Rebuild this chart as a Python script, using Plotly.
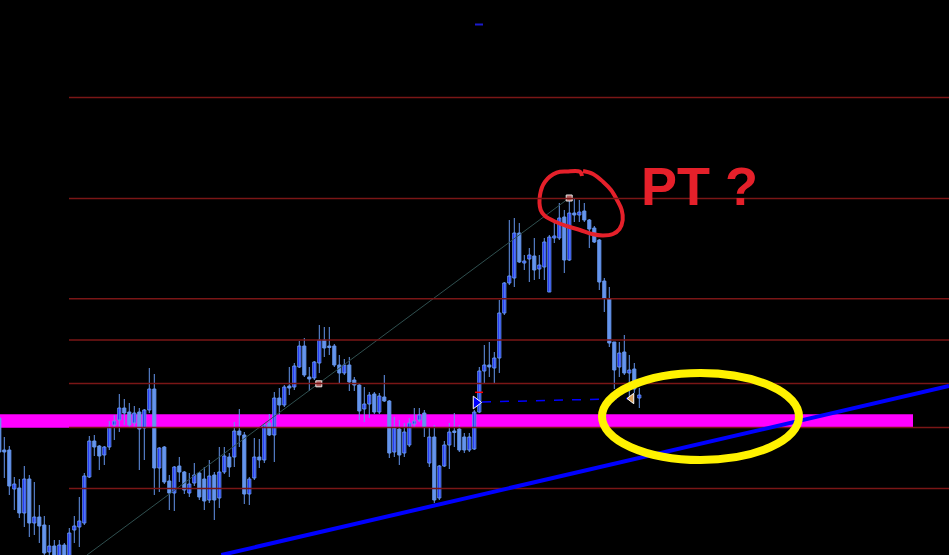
import plotly.graph_objects as go

# ---- candle data (bar index, prices) ----
bar_index = list(range(-1, 128))
opens = [137, 105, 105, 66, 67, 42, 76, 32, 38, 30, 3, 9, -1, 10, -1, 25, 28, 32, 78, 114, 109, 100,
         108, 130, 135, 147, 143, 132, 143, 127, 145, 166, 87, 108, 74, 62, 89, 83, 62, 72, 82, 76,
         55, 80, 57, 83, 98, 98, 124, 120, 61, 77, 98, 95, 132, 120, 157, 150, 169, 168, 188, 209,
         178, 177, 192, 215, 209, 209, 190, 182, 190, 175, 170, 146, 151, 161, 143, 158, 154, 103,
         126, 102, 110, 131, 135, 142, 92, 118, 57, 89, 110, 124, 126, 118, 105, 106, 143, 184, 190,
         187, 197, 242, 272, 277, 322, 292, 296, 299, 286, 288, 263, 317, 317, 338, 295, 342, 340,
         344, 335, 327, 315, 274, 256, 213, 188, 203, 182, 186, 157]
highs = [141, 118, 109, 78, 76, 89, 80, 73, 50, 39, 30, 15, 15, 12, 27, 39, 58, 82, 119, 120, 110, 109,
         134, 140, 161, 156, 152, 149, 147, 146, 187, 181, 108, 109, 80, 89, 98, 84, 82, 92, 83, 88,
         95, 83, 108, 108, 102, 133, 146, 123, 78, 117, 116, 131, 141, 163, 167, 170, 188, 192, 214,
         217, 188, 194, 230, 228, 228, 211, 200, 196, 198, 178, 171, 168, 163, 163, 162, 180, 155,
         138, 135, 132, 137, 147, 147, 145, 127, 130, 90, 114, 132, 142, 130, 122, 122, 145, 188,
         210, 213, 203, 255, 273, 335, 337, 332, 300, 307, 317, 300, 317, 320, 333, 352, 345, 357,
         356, 355, 352, 336, 329, 316, 277, 268, 213, 213, 220, 200, 192, 167]
lows = [100, 77, 60, 45, 37, 28, 18, 20, 12, -3, -2, -5, -5, -5, -3, 12, 8, 30, 77, 99, 85, 90,
        105, 115, 123, 130, 128, 127, 85, 95, 142, 60, 63, 71, 45, 44, 73, 61, 58, 69, 55, 45, 52,
        35, 47, 81, 78, 88, 108, 51, 50, 75, 87, 92, 119, 93, 140, 148, 160, 165, 187, 178, 164,
        175, 182, 198, 200, 188, 172, 180, 164, 164, 135, 133, 137, 141, 141, 153, 97, 98, 90, 98,
        108, 127, 133, 118, 88, 52, 55, 88, 86, 108, 103, 102, 103, 105, 142, 172, 178, 172, 182,
        240, 270, 268, 292, 285, 273, 275, 276, 275, 263, 312, 315, 282, 294, 333, 333, 333, 307,
        312, 265, 243, 208, 166, 178, 180, 155, 162, 147]
closes = [103, 103, 69, 71, 42, 76, 32, 38, 29, 2, 9, -1, 10, -1, 22, 29, 34, 79, 114, 108, 99, 108,
          128, 134, 147, 142, 130, 142, 126, 145, 166, 87, 107, 73, 62, 88, 83, 65, 71, 80, 58, 54,
          79, 55, 83, 99, 88, 124, 120, 61, 76, 98, 95, 130, 120, 157, 150, 168, 167, 189, 209, 180,
          176, 193, 215, 207, 207.5, 190, 182, 190, 173, 170, 144, 151, 160, 143, 159, 154, 102, 127,
          100, 123, 132, 134, 140, 128, 118, 55, 89, 110, 123, 122.5, 105, 105, 118, 143, 184, 190,
          188, 197, 242, 272, 279, 322, 293, 294, 300, 285, 290, 313, 318, 319, 337, 295, 342, 340,
          343, 335, 326, 313, 273, 257, 212, 185, 202, 182, 185, 166, 160]

# ---- horizontal levels and zones ----
level_prices = [457.5, 356.5, 256.2, 215, 171.5, 127.5, 66.5]
level_start = 12.94
zone_low, zone_high = 127.3, 140.7
zone_end = 181.74

# trend line (bar index, price)
trend_x = [43.4, 188.94]
trend_y = [0, 169]
# thin diagonal line and its anchors
diag_x = [16.54, 112.98]
diag_y = [0, 357]
anchor_x = [62.9, 112.98]
anchor_y = [171.2, 357]

# order objects
entry_x, entry_y = 94.34, 152.5
stop_x = [94.14, 95.74]
stop_y = 162.7
link_x = [95.54, 125.14]
link_y = [153, 156.5]
exit_x, exit_y = 125.44, 156.5
top_mark_x = [94.14, 95.74]
top_mark_y = 530.5

# hand drawings
ellipse_x = [119.54, 158.94]
ellipse_y = [95, 182]
circle_x = [115.54, 115.14, 112.54, 110.48, 108.14, 107.14, 107.28, 108.14, 110.34, 112.48, 115.14,
            117.54, 119.74, 121.74, 123.04, 123.68, 123.48, 122.54, 121.34, 119.74, 117.74, 115.74]
circle_y = [379, 383.3, 383.5, 382.3, 373.3, 360, 345, 339, 333, 329, 325,
            321, 319.5, 321, 326, 335, 345, 355, 365, 373.3, 381, 384]
label_text = "PT ?"
label_x, label_y = 138.94, 369

CORNFLOWER = "#6495ED"
BULL_FILL = "#0000FF"

# build candle pieces
wick_x, wick_y = [], []
bull_x, bull_base, bull_h = [], [], []
bear_x, bear_base, bear_h = [], [], []
for i, o, h, l, c in zip(bar_index, opens, highs, lows, closes):
    wick_x += [i, i, None]
    wick_y += [l, h, None]
    lo, hi = min(o, c), max(o, c)
    hgt = max(hi - lo, 1.0)
    if c > o:
        bull_x.append(i); bull_base.append(lo); bull_h.append(hgt)
    else:
        bear_x.append(i); bear_base.append(lo); bear_h.append(hgt)

fig = go.Figure()
fig.add_trace(go.Scatter(x=wick_x, y=wick_y, mode="lines", line=dict(color=CORNFLOWER, width=1),
                         hoverinfo="skip", showlegend=False))
fig.add_trace(go.Bar(x=bear_x, y=bear_h, base=bear_base, width=0.62,
                     marker=dict(color=CORNFLOWER, line=dict(color=CORNFLOWER, width=1)),
                     hoverinfo="skip", showlegend=False))
fig.add_trace(go.Bar(x=bull_x, y=bull_h, base=bull_base, width=0.62,
                     marker=dict(color=BULL_FILL, line=dict(color=CORNFLOWER, width=1)),
                     hoverinfo="skip", showlegend=False))

fig.add_trace(go.Scatter(x=diag_x, y=diag_y, mode="lines",
                         line=dict(color="#2F4F4F", width=1), hoverinfo="skip", showlegend=False))
fig.add_trace(go.Scatter(x=anchor_x, y=anchor_y, mode="markers",
                         marker=dict(symbol="square", size=6, color="#b06060",
                                     line=dict(color="#e8e8e8", width=1)),
                         hoverinfo="skip", showlegend=False))
fig.add_trace(go.Scatter(x=link_x, y=link_y, mode="lines",
                         line=dict(color="#0000FF", width=1.5, dash="dash"),
                         hoverinfo="skip", showlegend=False))
fig.add_trace(go.Scatter(x=stop_x, y=[stop_y, stop_y], mode="lines",
                         line=dict(color="#ff0000", width=1.5), hoverinfo="skip", showlegend=False))
fig.add_trace(go.Scatter(x=top_mark_x, y=[top_mark_y, top_mark_y], mode="lines",
                         line=dict(color="#1a1acd", width=2), hoverinfo="skip", showlegend=False))
fig.add_trace(go.Scatter(x=[entry_x], y=[entry_y], mode="markers",
                         marker=dict(symbol="triangle-right", size=11, color="#0000FF",
                                     line=dict(color="#ffffff", width=1)),
                         hoverinfo="skip", showlegend=False))
fig.add_trace(go.Scatter(x=[exit_x], y=[exit_y], mode="markers",
                         marker=dict(symbol="triangle-left", size=9, color="#D9A05B",
                                     line=dict(color="#ffffff", width=1)),
                         hoverinfo="skip", showlegend=False))
fig.add_trace(go.Scatter(x=circle_x, y=circle_y, mode="lines",
                         line=dict(color="#E5202A", width=4, shape="spline"),
                         hoverinfo="skip", showlegend=False))

shapes = []
shapes.append(dict(type="rect", xref="x", yref="y", x0=-5, x1=zone_end, y0=zone_low, y1=zone_high,
                   fillcolor="#FF00FF", line=dict(width=0), layer="below"))
for p in level_prices:
    shapes.append(dict(type="line", xref="x", yref="y", x0=level_start, x1=200, y0=p, y1=p,
                       line=dict(color="#7a1616", width=1.5), layer="above"))
shapes.append(dict(type="line", xref="x", yref="y", x0=trend_x[0], x1=trend_x[1],
                   y0=trend_y[0], y1=trend_y[1], line=dict(color="#0000FF", width=4), layer="above"))
shapes.append(dict(type="circle", xref="x", yref="y", x0=ellipse_x[0], x1=ellipse_x[1],
                   y0=ellipse_y[0], y1=ellipse_y[1], line=dict(color="#FFF200", width=8), layer="above"))

fig.update_layout(
    width=949, height=555,
    margin=dict(l=0, r=0, t=0, b=0),
    paper_bgcolor="#000000", plot_bgcolor="#000000",
    barmode="overlay",
    shapes=shapes,
    showlegend=False,
    xaxis=dict(range=[-0.86, 188.94], visible=False, showgrid=False, zeroline=False),
    yaxis=dict(range=[0, 555], visible=False, showgrid=False, zeroline=False),
    annotations=[dict(x=label_x, y=label_y, xref="x", yref="y", text="<b>" + label_text + "</b>",
                      showarrow=False, xanchor="center", yanchor="middle",
                      font=dict(family="Liberation Sans", size=54, color="#E5202A"))],
)

fig.write_html("out.html", config={"displayModeBar": False},
               post_script="document.body.style.margin='0';document.body.style.background='#000';")
